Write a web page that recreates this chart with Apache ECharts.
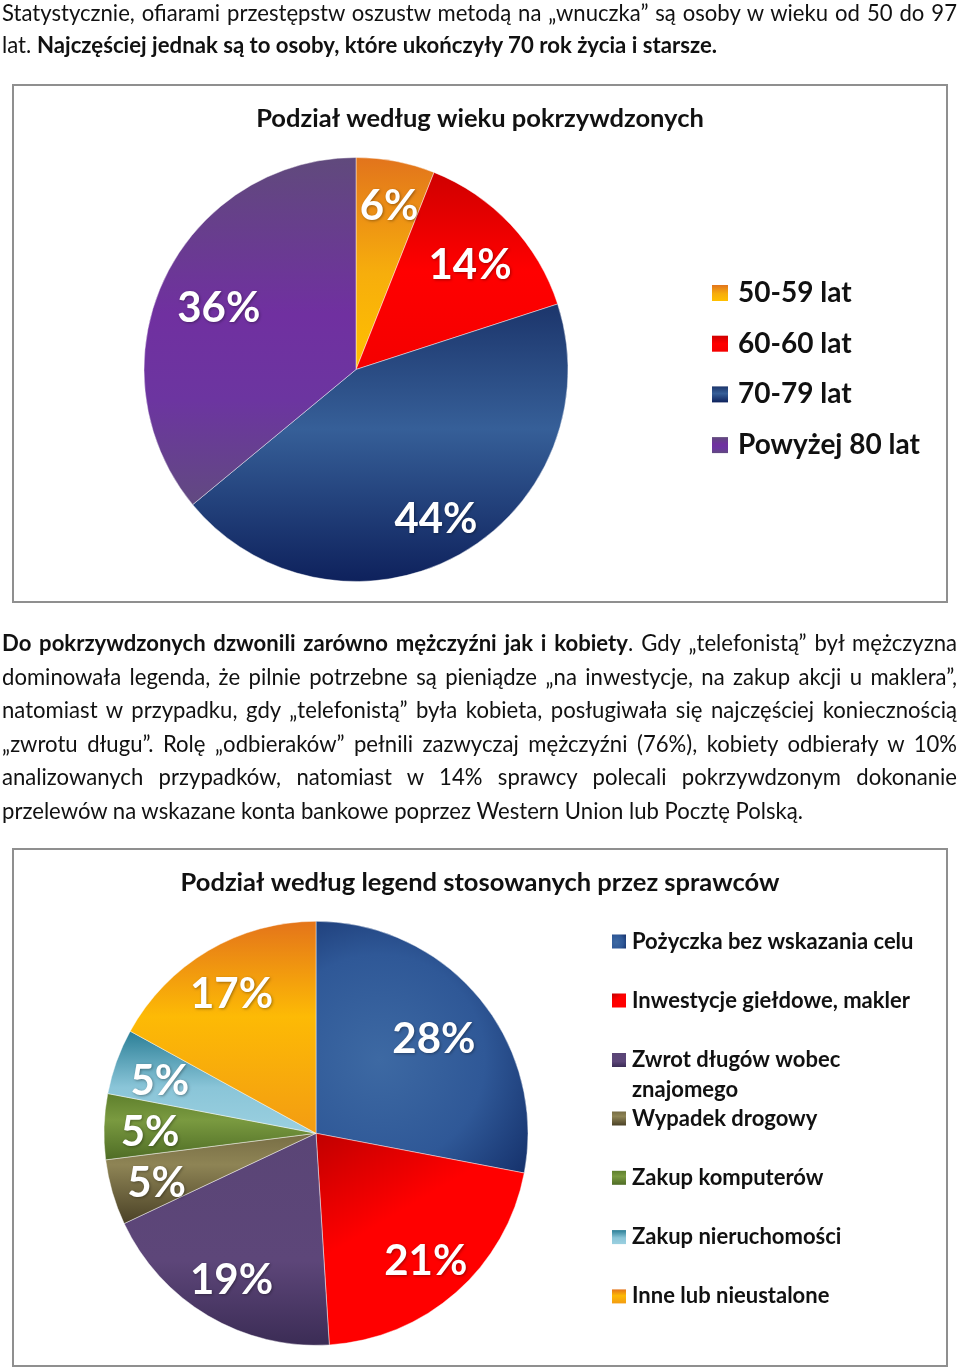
<!DOCTYPE html>
<html><head><meta charset="utf-8">
<script src="https://cdn.jsdelivr.net/npm/echarts@6/dist/echarts.min.js"></script>
<style>
html,body{margin:0;padding:0;background:#fff;}
#wrap{position:relative;width:960px;height:1371px;overflow:hidden;background:#fff;}
#chart{position:absolute;left:0;top:0;width:960px;height:1371px;}
.line{position:absolute;left:2px;height:33px;line-height:33px;font-family:Lato,'Open Sans',sans-serif;font-size:23px;color:#111;white-space:nowrap;}
.line span.in{display:inline-block;transform-origin:0 50%;}
b{font-weight:bold;}
</style></head>
<body><div id="wrap"><div id="chart"></div>
<div class="line" data-j="1" style="top:-4px"><span class="in">Statystycznie, ofiarami przestępstw oszustw metodą na „wnuczka” są osoby w wieku od 50 do 97</span></div>
<div class="line" data-t="715" style="top:28px"><span class="in">lat. <b>Najczęściej jednak są to osoby, które ukończyły 70 rok życia i starsze.</b></span></div>
<div class="line" data-j="1" style="top:626px"><span class="in"><b>Do pokrzywdzonych dzwonili zarówno mężczyźni jak i kobiety</b>. Gdy „telefonistą” był mężczyzna</span></div>
<div class="line" data-j="1" style="top:659.5px"><span class="in">dominowała legenda, że pilnie potrzebne są pieniądze „na inwestycje, na zakup akcji u maklera”,</span></div>
<div class="line" data-j="1" style="top:693px"><span class="in">natomiast w przypadku, gdy „telefonistą” była kobieta, posługiwała się najczęściej koniecznością</span></div>
<div class="line" data-j="1" style="top:726.5px"><span class="in">„zwrotu długu”. Rolę „odbieraków” pełnili zazwyczaj mężczyźni (76%), kobiety odbierały w 10%</span></div>
<div class="line" data-j="1" style="top:760px"><span class="in">analizowanych przypadków, natomiast w 14% sprawcy polecali pokrzywdzonym dokonanie</span></div>
<div class="line" data-t="801" id="ref" style="top:793.5px"><span class="in">przelewów na wskazane konta bankowe poprzez Western Union lub Pocztę Polską.</span></div>
</div>
<script>
// ---- data ----
const ageCategories = ['50-59 lat', '60-60 lat', '70-79 lat', 'Powyżej 80 lat'];
const ageValues = [6, 14, 44, 36];
const legendCategories = ['Pożyczka bez wskazania celu', 'Inwestycje giełdowe, makler', 'Zwrot długów wobec znajomego', 'Wypadek drogowy', 'Zakup komputerów', 'Zakup nieruchomości', 'Inne lub nieustalone'];
const legendValues = [28, 21, 19, 5, 5, 5, 17];

// ---- styles ----
function lin(stops, x2, y2) {
  return { type: 'linear', x: 0, y: 0, x2: x2 === undefined ? 0 : x2, y2: y2 === undefined ? 1 : y2,
    colorStops: stops.map(s => ({ offset: s[0], color: s[1] })) };
}
const ageColors = [
  lin([[0, '#E2741C'], [0.55, '#F7AE0C'], [1, '#FFC000']]),
  lin([[0, '#CF0000'], [0.5, '#FF0000'], [1, '#F40000']]),
  lin([[0, '#1C356B'], [0.45, '#365F98'], [1, '#0E215C']]),
  lin([[0, '#604A7C'], [0.45, '#7030A0'], [0.7, '#6C35A0'], [1, '#614A80']])
];
const legendColors = [
  { type: 'radial', x: 0.3, y: 0.55, r: 0.9, colorStops: [{ offset: 0, color: '#3D69A3' }, { offset: 0.55, color: '#2F5897' }, { offset: 1, color: '#132E68' }] },
  lin([[0, '#C00000'], [0.45, '#FF0000'], [1, '#FF0000']], 0.6, 1),
  lin([[0, '#5A4576'], [0.6, '#5D4679'], [1, '#3B2C55']]),
  lin([[0, '#776D44'], [0.35, '#8E8455'], [1, '#4A4126']]),
  lin([[0, '#5E7F2C'], [0.4, '#7A9A40'], [1, '#4E6C25']]),
  lin([[0, '#2A7E96'], [0.55, '#8AC5D8'], [1, '#9BD0E0']]),
  lin([[0, '#E4741A'], [0.45, '#FDBA05'], [1, '#F39C12']])
];
// small label nudges (index -> [dx, dy]) on top of the common offset
const ageLabelNudge = { 0: [2, -4], 1: [-7, 6], 3: [13, 6] };
const legendLabelNudge = { 0: [-10, 8] };

const FONT = 'Lato, "Open Sans", sans-serif';
const labelStyle = {
  show: true, position: 'inside', formatter: '{c}%', color: '#fff', fontSize: 42, fontWeight: 'bold',
  fontFamily: FONT, offset: [0, 4],
  textShadowColor: 'rgba(0,0,0,0.35)', textShadowBlur: 3, textShadowOffsetX: 1, textShadowOffsetY: 1
};
function pieSeries(names, values, colors, center, nudge) {
  return [{
    type: 'pie', center: center, radius: [0, 212], silent: true, animation: false,
    label: { show: false }, labelLine: { show: false },
    itemStyle: { borderColor: 'rgba(255,255,255,0.55)', borderWidth: 0.8 },
    data: names.map((n, i) => ({ name: n, value: values[i], itemStyle: { color: colors[i] } }))
  }, {
    type: 'pie', center: center, radius: [114, 212], silent: true, animation: false,
    label: labelStyle, labelLine: { show: false },
    itemStyle: { color: 'rgba(0,0,0,0)', borderWidth: 0 },
    data: names.map((n, i) => {
      const d = { name: n, value: values[i] };
      if (nudge[i]) d.label = { offset: [nudge[i][0], 4 + nudge[i][1]] };
      return d;
    })
  }];
}
function legendBase(extra) {
  return Object.assign({
    orient: 'vertical', icon: 'rect', padding: 0, selectedMode: false,
    itemStyle: { borderWidth: 0 }
  }, extra);
}
const legText1 = { fontSize: 28, fontWeight: 'bold', fontFamily: FONT, color: '#111', padding: [0, 0, 0, 5] };
const legText2 = { fontSize: 22, fontWeight: 'bold', fontFamily: FONT, color: '#111', padding: [0, 0, 0, 1] };

const chart = echarts.init(document.getElementById('chart'), null, { renderer: 'canvas' });
chart.setOption({
  animation: false,
  title: [
    { text: 'Podział według wieku pokrzywdzonych', left: 'center', top: 106, padding: 0,
      textStyle: { fontSize: 25.5, fontWeight: 'bold', fontFamily: FONT, color: '#111' } },
    { text: 'Podział według legend stosowanych przez sprawców', left: 'center', top: 870, padding: 0,
      textStyle: { fontSize: 25.5, fontWeight: 'bold', fontFamily: FONT, color: '#111' } }
  ],
  graphic: [
    { type: 'rect', silent: true, shape: { x: 13, y: 85, width: 934, height: 517 }, style: { fill: 'none', stroke: '#8f8f8f', lineWidth: 2 } },
    { type: 'rect', silent: true, shape: { x: 13, y: 849, width: 934, height: 517 }, style: { fill: 'none', stroke: '#8f8f8f', lineWidth: 2 } }
  ],
  legend: [
    legendBase({ left: 712, top: 279, itemWidth: 16, itemHeight: 16, itemGap: 22.7, data: ageCategories, textStyle: legText1 }),
    legendBase({ left: 612, top: 930.5, itemWidth: 14, itemHeight: 14, itemGap: 37, data: legendCategories.slice(0, 2), textStyle: legText2 }),
    legendBase({ left: 612, top: 1015, itemWidth: 14, itemHeight: 14, itemGap: 37, data: legendCategories.slice(2, 3),
      formatter: n => '\n' + n.replace(' znajomego', '\nznajomego'), textStyle: Object.assign({ lineHeight: 30 }, legText2) }),
    legendBase({ left: 612, top: 1107.5, itemWidth: 14, itemHeight: 14, itemGap: 37.3, data: legendCategories.slice(3), textStyle: legText2 })
  ],
  series: pieSeries(ageCategories, ageValues, ageColors, [356, 369.5], ageLabelNudge)
    .concat(pieSeries(legendCategories, legendValues, legendColors, [316, 1133.3], legendLabelNudge))
});

// ---- paragraph line fitting (narrow, justified text) ----
function fitLines() {
  const ref = document.querySelector('#ref span.in');
  ref.style.transform = 'none';
  const s = 801 / ref.getBoundingClientRect().width;
  document.querySelectorAll('.line').forEach(el => {
    const sp = el.querySelector('span.in');
    sp.style.transform = 'none'; sp.style.wordSpacing = '0px';
    const w = sp.getBoundingClientRect().width;
    if (el.dataset.j) {
      const T = 955;
      const n = (sp.textContent.match(/ /g) || []).length;
      let sc = s, extra = (T / sc - w) / n;
      if (extra < 0) { sc = T / w; extra = 0; }
      sp.style.wordSpacing = extra + 'px';
      sp.style.transform = 'scaleX(' + sc + ')';
    } else {
      const t = parseFloat(el.dataset.t);
      sp.style.transform = 'scaleX(' + (t / w) + ')';
    }
  });
}
fitLines();
if (document.fonts && document.fonts.ready) document.fonts.ready.then(fitLines);
</script>
</body></html>
